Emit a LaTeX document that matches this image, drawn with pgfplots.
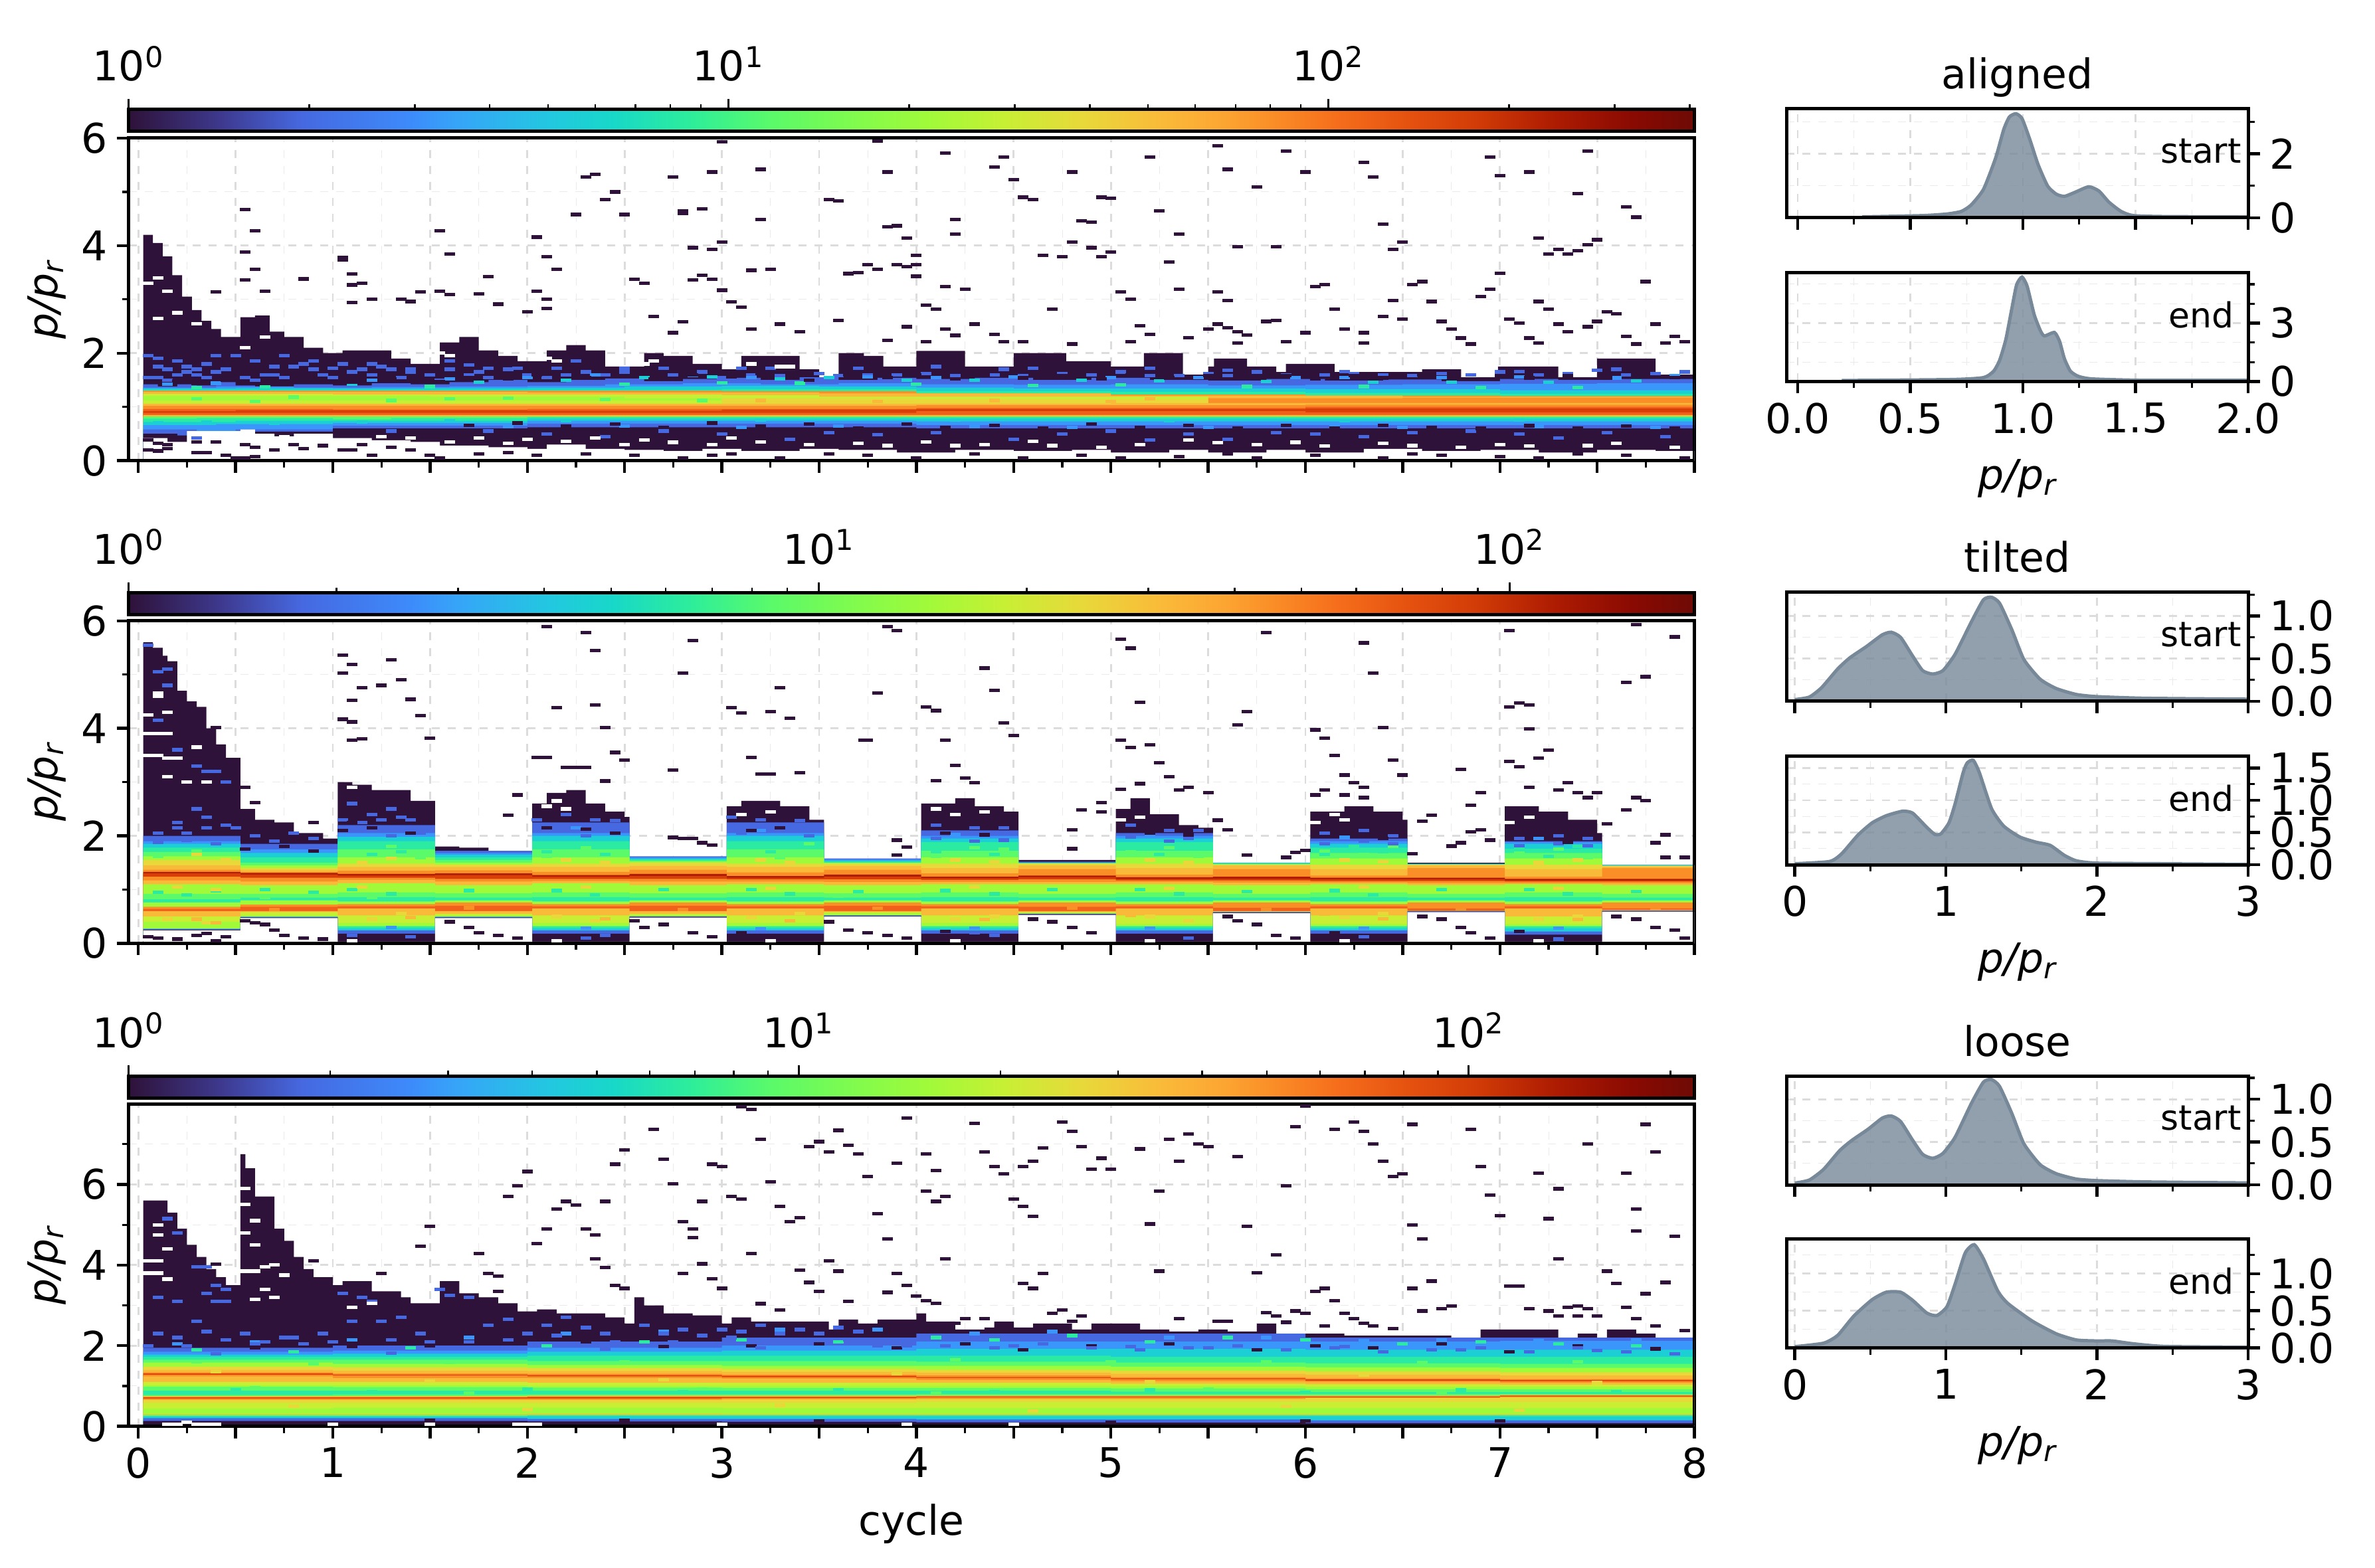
\documentclass[border=0pt]{standalone}
\usepackage{fontspec}
\setmainfont{DejaVu Sans}
\usepackage{pgfplots}
\usepackage{pgfplotstable}
\pgfplotsset{compat=1.18}
\definecolor{cD}{HTML}{2E1239}
\definecolor{cB}{HTML}{4668E0}
\definecolor{cL}{HTML}{3A96FA}
\definecolor{cC}{HTML}{1CCFD5}
\definecolor{cT}{HTML}{2BEBA3}
\definecolor{cG}{HTML}{5AFA6A}
\definecolor{cV}{HTML}{A0FA3A}
\definecolor{cW}{HTML}{C8EF34}
\definecolor{cY}{HTML}{E8D83A}
\definecolor{cA}{HTML}{FABA39}
\definecolor{cO}{HTML}{FA8E27}
\definecolor{cP}{HTML}{F0601A}
\definecolor{cR}{HTML}{D83F08}
\definecolor{cS}{HTML}{AE1C02}
\definecolor{kdeline}{HTML}{778899}
\definecolor{gridc}{HTML}{DCDCDC}
\pgfplotsset{colormap={turbo}{rgb255(0)=(46,18,57); rgb255(6)=(62,58,144); rgb255(11)=(70,104,224);
  rgb255(18)=(61,139,251); rgb255(21)=(54,165,248); rgb255(27)=(34,200,224); rgb255(31)=(24,216,200);
  rgb255(36)=(46,238,154); rgb255(41)=(90,250,106); rgb255(47)=(133,251,74); rgb255(51)=(160,250,58);
  rgb255(56)=(200,239,52); rgb255(61)=(232,216,58); rgb255(66)=(250,186,57); rgb255(70)=(252,165,50);
  rgb255(73)=(250,142,39); rgb255(77)=(246,111,28); rgb255(82)=(228,80,15); rgb255(86)=(210,60,7);
  rgb255(91)=(174,28,2); rgb255(96)=(138,10,2); rgb255(100)=(110,10,5)}}
\pgfdeclareplotmark{cell}{\pgfpathrectangle{\pgfpoint{-2pt}{-.65pt}}{\pgfpoint{4pt}{1.3pt}}\pgfusepathqfill}
\newcommand\band[2]{\addplot[const plot,fill=#1,draw=none,forget plot] coordinates {#2} \closedcycle;}
\newcommand\bandt[3]{\addplot[const plot,fill=#1,draw=none,forget plot] table[x=x,y=#3] {#2} \closedcycle;}
\newcommand\cells[2]{\addplot[only marks,mark=cell,color=#1,forget plot] coordinates {#2};}
\newcommand\kde[1]{\addplot[fill=kdeline,fill opacity=.8,draw=none,smooth,tension=.35,forget plot] table {#1} \closedcycle;
  \addplot[kdeline,line width=1.25pt,smooth,tension=.35,forget plot] table {#1};}
\newcommand\spine{\draw[line width=1.25pt] (rel axis cs:0,0) rectangle (rel axis cs:1,1);}
\newcommand\pr{{\itshape p/p\textsubscript{r}}}
\pgfplotsset{
  base/.style={scale only axis,
    /pgf/number format/assume math mode=true,
    tick label style={font=\fontsize{15.4}{18}\selectfont},
    title style={font=\fontsize{15.4}{18}\selectfont,at={(axis description cs:.5,1)},anchor=base,yshift=1.5pt},
    axis line style={line width=1.25pt},
    tick align=outside,major tick length=4.5pt,minor tick length=2.5pt,
    tick style={black,line width=1.1pt},minor tick style={black,line width=.8pt},
    grid=both,
    major grid style={gridc,dashed,line width=.7pt},
    minor grid style={gridc!60,dashed,line width=.25pt},
    every axis x label/.style={at={(axis description cs:.5,0)},yshift=-36.6pt,anchor=center,font=\fontsize{15.4}{18}\selectfont},
    every axis y label/.style={at={(axis description cs:0,.5)},xshift=-30.75pt,rotate=90,anchor=center,font=\fontsize{15.4}{18}\selectfont},
    xtick pos=bottom,ytick pos=left,
  },
  heat/.style={base,width=589.25pt,height=121.4pt,xmin=-0.05,xmax=8,
    xtick={0,0.5,...,8},minor xtick={0.25,0.75,...,7.75},ylabel={\pr},ymin=0},
  kde/.style={base,width=173.75pt,height=41pt,ytick pos=right,yticklabel pos=right},
  kdeA/.style={kde,xmin=-0.05,xmax=2,xtick={0,0.5,1,1.5,2},minor xtick={0.25,0.75,1.25,1.75}},
  kdeB/.style={kde,xmin=-0.0556,xmax=3,xtick={0,1,2,3},minor xtick={0.5,1.5,2.5}},
  cbar/.style={scale only axis,width=589.25pt,height=8.25pt,xmin=0,ymin=0,ymax=1,
    ytick=\empty,xtick pos=top,xticklabel pos=top,xtick={0,1,2},
    xticklabels={10\textsuperscript{0},10\textsuperscript{1},10\textsuperscript{2}},
    tick label style={font=\fontsize{15.4}{18}\selectfont,yshift=3pt},
    axis line style={line width=1.25pt},
    tick align=outside,major tick length=4pt,minor tick length=2pt,
    tick style={black,line width=.7pt},minor tick style={black,line width=.6pt},
    colormap name=turbo,point meta min=0,point meta max=1},
}
\pgfplotstableread{
t y
0 0
0.06 0
0.11 0
0.18 0
0.21 0
0.27 0
0.31 0
0.36 0
0.41 0
0.47 0
0.51 0
0.56 0
0.61 0
0.66 0
0.7 0
0.73 0
0.77 0
0.82 0
0.86 0
0.91 0
0.96 0
1 0
0 1
0.06 1
0.11 1
0.18 1
0.21 1
0.27 1
0.31 1
0.36 1
0.41 1
0.47 1
0.51 1
0.56 1
0.61 1
0.66 1
0.7 1
0.73 1
0.77 1
0.82 1
0.86 1
0.91 1
0.96 1
1 1
}\cbtab
\pgfplotstableread{
x bB bL bC bT bG bV bY bA bO bR bP bQ bE bF bG2 bT2 bG3 bO3 bR3 bA3 bW bV3 bT3 bC3 bB3 bD3 bH
0.025 2.0 1.9 1.85 1.78 1.7 1.62 1.55 1.45 1.37 1.33 1.3 1.24 1.17 1.1 .92 .82 .76 .68 .64 .6 .5 .4 .27 .27 .27 .25 .24
0.525 1.85 1.75 1.68 1.6 1.5 1.45 1.4 1.37 1.33 1.31 1.28 1.22 1.15 1.08 .92 .85 .8 .72 .68 .6 .58 .52 .49 .49 .49 .48 .47
1.025 2.2 2.05 1.98 1.9 1.75 1.6 1.48 1.42 1.35 1.29 1.26 1.22 1.18 1.12 .95 .86 .78 .73 .69 .65 .52 .38 .32 .28 .24 .18 .03
1.525 1.72 1.68 1.65 1.6 1.55 1.5 1.46 1.42 1.36 1.3 1.27 1.2 1.15 1.08 .93 .85 .8 .76 .7 .6 .55 .52 .49 .49 .49 .48 .47
2.025 2.25 2.05 2.0 1.9 1.75 1.6 1.48 1.42 1.33 1.27 1.24 1.2 1.16 1.12 .95 .86 .78 .73 .69 .65 .52 .38 .32 .28 .24 .18 .03
2.525 1.62 1.6 1.58 1.56 1.54 1.52 1.5 1.44 1.37 1.29 1.25 1.2 1.15 1.08 .93 .85 .8 .76 .7 .6 .55 .52 .5 .5 .5 .49 .48
3.025 2.25 2.05 2.0 1.9 1.75 1.6 1.48 1.42 1.32 1.25 1.22 1.19 1.15 1.1 .95 .86 .78 .73 .69 .65 .52 .38 .32 .28 .24 .18 .03
3.525 1.58 1.56 1.54 1.52 1.5 1.5 1.48 1.44 1.37 1.28 1.24 1.19 1.14 1.08 .93 .85 .8 .76 .7 .6 .58 .56 .52 .52 .52 .51 .5
4.025 2.1 2.0 1.95 1.88 1.72 1.6 1.48 1.4 1.3 1.24 1.21 1.18 1.14 1.1 .95 .86 .78 .73 .69 .65 .52 .38 .32 .28 .24 .18 .03
4.525 1.52 1.5 1.5 1.5 1.49 1.49 1.48 1.45 1.38 1.26 1.23 1.19 1.14 1.1 .92 .85 .8 .76 .68 .6 .58 .56 .55 .55 .55 .54 .53
5.025 2.05 2.0 1.95 1.88 1.72 1.6 1.48 1.4 1.28 1.23 1.2 1.17 1.14 1.1 .95 .86 .78 .73 .69 .65 .52 .36 .32 .28 .24 .18 .03
5.525 1.5 1.5 1.5 1.48 1.48 1.47 1.46 1.45 1.38 1.24 1.2 1.17 1.13 1.08 .92 .85 .8 .76 .66 .6 .58 .58 .58 .58 .58 .57 .56
6.025 1.95 1.9 1.85 1.78 1.68 1.58 1.46 1.38 1.26 1.22 1.19 1.16 1.13 1.1 .95 .86 .78 .73 .69 .65 .52 .36 .32 .28 .24 .18 .03
6.525 1.48 1.48 1.47 1.47 1.47 1.46 1.46 1.45 1.4 1.22 1.19 1.16 1.12 1.08 .92 .85 .8 .76 .65 .6 .6 .6 .6 .6 .6 .59 .58
7.025 1.9 1.88 1.85 1.76 1.68 1.58 1.46 1.38 1.24 1.2 1.17 1.15 1.12 1.1 .95 .86 .78 .73 .69 .65 .5 .36 .32 .28 .22 .16 .03
7.525 1.46 1.46 1.45 1.45 1.45 1.44 1.44 1.43 1.4 1.2 1.17 1.15 1.12 1.08 .92 .85 .8 .76 .65 .62 .61 .61 .61 .61 .61 .6 .59
8 1.46 1.46 1.45 1.45 1.45 1.44 1.44 1.43 1.4 1.2 1.17 1.15 1.12 1.08 .92 .85 .8 .76 .65 .62 .61 .61 .61 .61 .61 .6 .59
}\tTwo
\pgfplotstableread{
x bB bL bC bT bG bV bY bA bO bR bQ bE bW bF bG2 bT2 bG3 bA3 bO3 bR3 bA4 bW2 bV4 bA5 bO5 bT3 bC3 bB3 bD3 bH
0.025 1.95 1.85 1.78 1.72 1.65 1.58 1.48 1.40 1.34 1.31 1.28 1.24 1.10 1.02 .98 .88 .78 .75 .72 .69 .66 .58 .44 .30 .28 .26 .24 .20 .13 .03
1 2.0 1.88 1.80 1.72 1.65 1.55 1.46 1.38 1.31 1.28 1.26 1.2 1.10 1.02 .97 .88 .79 .75 .72 .69 .66 .58 .46 .30 .28 .26 .24 .20 .13 .02
2 2.1 1.95 1.85 1.75 1.62 1.52 1.44 1.37 1.3 1.27 1.24 1.2 1.08 1.0 .96 .88 .79 .76 .73 .69 .66 .58 .46 .31 .28 .27 .25 .18 .12 .02
3 2.2 2.0 1.88 1.75 1.62 1.5 1.42 1.35 1.28 1.25 1.22 1.18 1.08 1.0 .95 .88 .79 .76 .73 .7 .67 .58 .45 .3 .28 .27 .25 .18 .11 .02
4 2.3 2.1 1.92 1.75 1.6 1.5 1.4 1.33 1.26 1.22 1.2 1.15 1.08 1.0 .95 .88 .8 .76 .74 .72 .68 .6 .45 .3 .28 .27 .25 .17 .1 .02
5 2.3 2.1 1.92 1.72 1.58 1.48 1.38 1.3 1.22 1.19 1.17 1.12 1.06 1.0 .94 .86 .8 .76 .74 .72 .68 .6 .45 .3 .28 .27 .25 .17 .09 .02
6 2.2 2.1 1.9 1.72 1.56 1.46 1.36 1.28 1.19 1.16 1.13 1.1 1.04 .98 .92 .85 .8 .76 .74 .72 .7 .6 .45 .3 .28 .27 .25 .15 .08 .02
7 2.2 2.12 1.9 1.72 1.55 1.45 1.34 1.26 1.17 1.15 1.12 1.08 1.03 .98 .92 .85 .8 .78 .76 .74 .72 .6 .45 .3 .28 .27 .24 .15 .08 .02
8 2.2 2.12 1.9 1.72 1.55 1.45 1.34 1.26 1.17 1.15 1.12 1.08 1.03 .98 .92 .85 .8 .78 .76 .74 .72 .6 .45 .3 .28 .27 .24 .15 .08 .02
}\tThree
\pgfplotstableread{
x y
0.286 .03
0.555 .07
0.663 .12
0.726 .2
0.77 .4
0.825 .89
0.879 1.87
0.915 2.76
0.94 3.15
0.969 3.25
0.996 3.1
1.03 2.46
1.067 1.67
1.11 .99
1.148 .74
1.184 .67
1.229 .79
1.292 .97
1.337 .84
1.382 .49
1.436 .2
1.49 .07
1.63 .04
2 .03
}\kAs
\pgfplotstableread{
x y
0.196 .05
0.681 .1
0.825 .2
0.87 .53
0.897 1.1
0.924 2.15
0.951 3.76
0.972 4.97
0.996 5.37
1.019 4.89
1.05 3.44
1.077 2.63
1.095 2.34
1.14 2.52
1.163 2.06
1.184 1.18
1.211 .53
1.247 .26
1.31 .13
1.544 .06
2 .06
}\kAe
\pgfplotstableread{
x y
0 .02
.096 .05
.177 .16
.284 .38
.364 .51
.472 .64
.579 .78
.638 .81
.7 .75
.78 .53
.846 .36
.913 .32
.98 .36
1.06 .55
1.168 .93
1.248 1.19
1.302 1.22
1.355 1.15
1.436 .84
1.516 .49
1.623 .26
1.73 .15
1.864 .08
2 .055
2.32 .036
3 .025
}\kBs
\pgfplotstableread{
x y
0 .015
.23 .05
.31 .17
.418 .46
.512 .65
.605 .76
.713 .83
.78 .8
.873 .58
.927 .47
.967 .48
1.02 .65
1.06 .94
1.114 1.43
1.141 1.58
1.181 1.62
1.221 1.43
1.302 .87
1.382 .6
1.489 .43
1.596 .35
1.69 .3
1.784 .145
1.864 .06
2 .024
2.45 .015
3 .005
}\kBe
\pgfplotstableread{
x y
0 .02
.096 .056
.19 .18
.297 .40
.378 .52
.485 .65
.579 .78
.638 .805
.7 .74
.78 .52
.846 .356
.913 .31
.98 .367
1.06 .554
1.168 .95
1.248 1.2
1.302 1.23
1.355 1.15
1.436 .835
1.516 .48
1.623 .236
1.73 .13
1.864 .067
2 .049
2.32 .034
3 .022
}\kCs
\pgfplotstableread{
x y
0 .017
.19 .064
.284 .17
.391 .43
.512 .65
.605 .75
.7 .75
.78 .64
.873 .47
.94 .436
1.007 .556
1.06 .855
1.128 1.28
1.187 1.39
1.248 1.2
1.342 .77
1.409 .6
1.57 .363
1.73 .19
1.864 .107
2 .094
2.1 .094
2.24 .056
2.45 .02
3 .01
}\kCe
\begin{document}
\begin{tikzpicture}
\path[use as bounding box] (0,0) rectangle (893.75pt,590pt);
% colour bars, x in decades
\begin{axis}[cbar,at={(48.4pt,540.5pt)},anchor=south west,xmax=2.61,minor xtick={.301,.477,.602,.699,.778,.845,.903,.954,1.301,1.477,1.602,1.699,1.778,1.845,1.903,1.954,2.301,2.477,2.602}]
\addplot[surf,shader=interp,mesh/cols=22,point meta=\thisrow{t},forget plot] table[x expr={\thisrow{t}*2.61},y=y] {\cbtab};
\spine
\end{axis}
\begin{axis}[cbar,at={(48.4pt,358.6pt)},anchor=south west,xmax=2.268,minor xtick={.301,.477,.602,.699,.778,.845,.903,.954,1.301,1.477,1.602,1.699,1.778,1.845,1.903,1.954}]
\addplot[surf,shader=interp,mesh/cols=22,point meta=\thisrow{t},forget plot] table[x expr={\thisrow{t}*2.268},y=y] {\cbtab};
\spine
\end{axis}
\begin{axis}[cbar,at={(48.4pt,176.75pt)},anchor=south west,xmax=2.337,minor xtick={.301,.477,.602,.699,.778,.845,.903,.954,1.301,1.477,1.602,1.699,1.778,1.845,1.903,1.954,2.301}]
\addplot[surf,shader=interp,mesh/cols=22,point meta=\thisrow{t},forget plot] table[x expr={\thisrow{t}*2.337},y=y] {\cbtab};
\spine
\end{axis}
% aligned
\begin{axis}[heat,at={(48.4pt,416.6pt)},anchor=south west,ymax=6,ytick={0,2,4,6},yticklabels={0,2,4,6},minor ytick={1,3,5},xticklabels={}]
\band{cD}{(.025,4.2)(.075,4.05)(.125,3.8)(.175,3.45)(.225,3.05)(.275,2.8)(.325,2.6)(.375,2.45)(.425,2.3)(.525,2.67)(.6,2.7)(.675,2.4)(.75,2.3)(.85,2.1)(.95,2.0)(1.05,2.05)(1.2,2.05)(1.3,1.9)(1.4,1.8)(1.55,2.2)(1.65,2.3)(1.75,2.05)(1.85,1.95)(1.95,1.85)(2.1,2.05)(2.2,2.15)(2.3,2.05)(2.4,1.75)(2.6,2.0)(2.7,1.95)(2.85,1.8)(3.0,1.7)(3.1,1.95)(3.3,1.95)(3.4,1.7)(3.5,1.55)(3.6,2.0)(3.73,1.95)(3.83,1.75)(4,2.04)(4.25,1.75)(4.5,2.0)(4.77,1.85)(5,1.75)(5.17,2.0)(5.37,1.6)(5.5,1.75)(5.53,1.9)(5.7,1.75)(5.85,1.65)(5.9,1.8)(6.15,1.65)(6.6,1.7)(6.8,1.55)(6.99,1.75)(7.3,1.55)(7.5,1.9)(7.8,1.6)(8,1.6)}
\band{cB}{(.025,1.42)(.1,1.38)(.2,1.42)(.3,1.4)(.4,1.46)(.5,1.4)(.6,1.38)(.8,1.42)(1,1.4)(1.2,1.44)(1.4,1.42)(1.6,1.46)(1.8,1.5)(2,1.46)(2.2,1.5)(2.4,1.53)(2.6,1.48)(2.8,1.52)(3,1.54)(3.2,1.5)(3.4,1.55)(3.6,1.5)(3.8,1.54)(4,1.52)(4.3,1.54)(4.6,1.5)(4.9,1.54)(5.2,1.5)(5.5,1.49)(5.8,1.52)(6.1,1.49)(6.4,1.51)(6.7,1.48)(7,1.52)(7.3,1.5)(7.6,1.52)(8,1.54)}
\band{cL}{(.025,1.36)(.4,1.38)(.8,1.36)(1.2,1.37)(1.6,1.38)(2,1.39)(2.4,1.42)(2.8,1.44)(3.2,1.42)(3.6,1.44)(4,1.42)(4.5,1.41)(5,1.42)(5.5,1.4)(6,1.41)(6.5,1.42)(7,1.43)(7.5,1.44)(8,1.46)}
\band{cC}{(.025,1.34)(.5,1.35)(1,1.34)(1.5,1.35)(2,1.36)(2.5,1.38)(3,1.39)(3.5,1.38)(4,1.36)(4.5,1.34)(5,1.34)(6,1.33)(7,1.31)(8,1.29)}
\band{cT}{(.025,1.32)(1,1.32)(2,1.32)(3,1.33)(4,1.29)(5,1.28)(6,1.26)(7,1.24)(8,1.23)}
\band{cO}{(.025,1.3)(2,1.3)(3,1.29)(4,1.25)(5,1.23)(6,1.21)(7,1.2)(8,1.2)}
\band{cA}{(.025,1.28)(2,1.27)(3.5,1.25)(5,1.21)(6.5,1.19)(8,1.18)}
\band{cW}{(.025,1.24)(1,1.23)(2,1.23)(3,1.22)(3.5,1.19)(5.5,1.19)}
\band{cO}{(5.5,1.16)(6.5,1.17)(8,1.16)}
\band{cV}{(.025,1.2)(1.5,1.19)(2.5,1.16)(3,1.12)}
\band{cY}{(3,1.16)(4,1.15)(5.5,1.13)}
\band{cW}{(.025,1.12)(1.5,1.12)(3,1.1)}
\band{cA}{(.025,1.06)(2,1.06)(3.5,1.06)(5,1.07)(8,1.08)}
\band{cO}{(.025,1.02)(2,1.02)(4,1.03)(6,1.04)(8,1.06)}
\band{cP}{(.025,.96)(1,.95)(2,.96)(4,.98)(6,1.0)(8,1.02)}
\band{cR}{(.025,.92)(.5,.94)(1,.94)(2,.93)(3,.95)(4,.96)(6,.97)(8,.96)}
\band{cP}{(.025,.89)(2,.89)(4,.92)(6,.9)(8,.9)}
\band{cA}{(.025,.85)(8,.86)}
\band{cG}{(.025,.82)(8,.83)}
\band{cT}{(.025,.78)(.3,.79)(1,.77)(1.3,.79)(2,.81)(8,.81)}
\band{cC}{(.025,.72)(.5,.74)(1,.74)(2,.78)(4,.78)(8,.77)}
\band{cL}{(.025,.66)(.4,.68)(1,.7)(2,.74)(4,.73)(8,.73)}
\band{cB}{(.025,.58)(.3,.54)(.5,.58)(1,.65)(2,.69)(4,.66)(8,.66)}
\band{cD}{(.025,.5)(.2,.47)(.3,.53)(.6,.54)(1,.6)(2,.62)(4,.6)(8,.56)}
\band{white}{(.025,.42)(.15,.35)(.25,.55)(.525,.58)(.6,.5)(.7,.45)(.8,.5)(1,.42)(1.2,.38)(1.4,.35)(1.55,.28)(1.8,.25)(2,.22)(2.1,.3)(2.3,.22)(2.5,.2)(2.7,.18)(2.9,.22)(3.1,.18)(3.4,.22)(3.6,.2)(3.9,.15)(4.2,.2)(4.5,.18)(4.8,.2)(5,.15)(5.3,.2)(5.5,.15)(5.8,.2)(6,.15)(6.3,.22)(6.6,.18)(6.9,.2)(7.2,.15)(7.5,.2)(7.8,.18)(8,.18)}
\cells{cB}{(.05,1.95)(.1,1.75)(.15,1.7)(.1,1.55)(.15,1.5)(.05,1.55)(.2,1.6)(.25,1.65)(.3,1.7)(.3,1.6)(.35,1.55)(.4,1.65)(.45,1.7)(.5,1.95)(.55,1.55)(.6,1.5)(.65,1.6)(.7,1.6)(.75,1.55)(.8,1.75)(.85,1.8)(.9,1.7)(.95,1.6)(1.0,1.55)(1.05,1.8)(1.1,1.65)(1.15,1.7)(1.2,1.6)(1.25,1.75)(1.3,1.7)(1.35,1.55)(1.4,1.65)(1.5,1.6)(1.55,1.5)(1.6,1.7)(1.7,1.6)(1.75,1.65)(1.8,1.55)(1.9,1.7)(2.0,1.6)(2.1,1.55)(2.2,1.6)(2.3,1.65)(2.4,1.6)(2.5,1.65)(2.6,1.55)(2.75,1.6)(2.9,1.65)(3,1.55)(3.15,1.6)(3.3,1.58)(3.5,1.62)(3.6,1.58)(3.75,1.6)(3.9,1.6)(4.05,1.62)(4.2,1.58)(4.4,1.6)(4.55,1.58)(4.75,1.62)(4.9,1.6)(5.05,1.65)(5.2,1.58)(5.35,1.58)(5.5,1.62)(5.6,1.58)(5.75,1.65)(5.9,1.6)(6.1,1.6)(6.25,1.62)(6.4,1.6)(6.55,1.58)(6.7,1.62)(6.85,1.6)(7,1.65)(7.2,1.6)(7.35,1.62)(7.5,1.68)(7.65,1.6)(7.8,1.62)(7.95,1.65)(.3,.42)(1.3,.55)(2.4,.45)(3.35,.4)(4.5,.4)(5.2,.38)(5.6,.4)(6.3,.45)(7.3,.42)(7.85,.45)(1.8,.55)(2.1,.5)(2.7,.55)(3,.5)(3.55,.52)(3.8,.48)(4.1,.52)(4.75,.5)(5,.55)(5.4,.5)(5.85,.52)(6.05,.5)(6.55,.52)(6.85,.55)(7.1,.5)(7.55,.52)
(.1,1.9)(.2,1.85)(.25,1.75)(.35,1.8)(.4,1.95)(.6,1.85)(.7,1.75)(.75,1.95)(.9,1.85)(1.0,1.72)(1.2,1.8)(1.4,1.7)(1.6,1.85)(1.7,1.78)(1.8,1.72)(1.95,1.72)(2.15,1.72)(2.25,1.85)(2.5,1.72)(2.7,1.72)(3.1,1.72)(3.25,1.72)(3.7,1.72)(4.1,1.75)(4.45,1.7)(4.6,1.72)(5.2,1.72)(5.6,1.68)(6.2,1.66)(7.1,1.66)(7.6,1.7)}
\cells{cL}{(.15,1.42)(.4,1.44)(1.2,1.5)(1.6,1.52)(2,1.55)(2.35,1.6)(2.85,1.58)(3.15,1.55)(3.75,1.56)(4.1,1.55)(4.5,1.56)(5,1.55)(5.45,1.55)(5.95,1.55)(6.2,1.55)(6.7,1.55)(7.1,1.56)(7.6,1.54)(7.9,1.58)(1.9,.63)(2.5,.64)(3.1,.62)(3.6,.64)(4.3,.63)(4.8,.62)(5.5,.62)(6.15,.63)(6.5,.62)(7.2,.63)(7.8,.62)}
\cells{cC}{(1.1,1.42)(1.75,1.46)(2.2,1.5)(2.6,1.55)(2.95,1.56)(3.3,1.52)(3.55,1.55)(3.95,1.5)(4.3,1.5)(4.85,1.5)(5.25,1.48)(5.8,1.47)(6.35,1.46)(6.75,1.46)(7.25,1.46)(7.7,1.48)(.1,.7)(.35,.72)(.7,.7)(1.15,.72)(1.6,.74)(2.2,.74)(3.2,.75)(4.2,.75)(5.3,.74)(6.2,.74)(7.1,.75)}
\cells{cT}{(.3,1.36)(.65,1.37)(1.5,1.38)(2.5,1.42)(3,1.45)(3.4,1.44)(4,1.42)(4.6,1.4)(5.05,1.41)(5.7,1.38)(6.3,1.38)(6.9,1.36)(7.4,1.36)}
\cells{cG}{(.3,1.15)(.8,1.18)(1.3,1.12)(1.9,1.16)(2.4,1.14)(2.9,1.12)(.6,1.1)(1.6,1.15)}
\cells{cA}{(3.2,1.12)(3.8,1.1)(4.4,1.12)(5,1.1)(5.2,1.15)}
\cells{white}{(.1,3.4)(.15,3.15)(.05,3.3)(.1,2.65)(.2,2.75)(.3,2.55)(.65,2.3)(.55,2.1)(1.55,2.0)(1.6,1.95)(2.1,1.9)(2.15,1.85)(2.6,1.8)(2.65,1.85)(3.15,1.8)(3.3,1.75)(3.35,1.75)(.75,.45)(.85,.4)(1.15,.35)(1.25,.45)(1.4,.42)(1.6,.35)(1.75,.42)(1.9,.32)(2,.4)(2.2,.36)(2.35,.42)(2.5,.3)(2.6,.38)(2.75,.34)(2.95,.3)(3.05,.42)(3.2,.35)(3.45,.3)(3.7,.32)(3.85,.28)(4.05,.35)(4.2,.28)(4.35,.3)(4.6,.36)(4.7,.28)(4.95,.25)(5.15,.3)(5.4,.38)(5.55,.33)(5.75,.3)(5.95,.34)(6.1,.27)(6.4,.32)(6.55,.28)(6.8,.25)(7,.3)(7.15,.27)(7.45,.28)(7.6,.32)(7.9,.25)}
\cells{cD}{(.2,1.48)(.3,1.43)(.45,1.5)(.7,1.44)(.85,1.52)(1.1,1.46)(1.3,1.52)(1.55,1.47)(1.7,1.55)(1.9,1.52)(2.05,1.6)(2.3,1.54)(2.5,1.58)(2.65,1.52)(2.85,1.6)(3.05,1.56)(3.2,1.62)(3.45,1.5)(3.65,1.6)(3.85,1.55)(4,1.6)(4.2,1.52)(4.35,1.6)(4.55,1.54)(4.75,1.58)(4.95,1.52)(5.1,1.6)(5.3,1.54)(5.5,1.58)(5.7,1.52)(5.9,1.58)(6.05,1.52)(6.25,1.58)(6.4,1.54)(6.6,1.6)(6.8,1.52)(7,1.58)(7.15,1.54)(7.35,1.58)(7.55,1.54)(7.7,1.6)(7.9,1.55)
(1.7,.66)(1.95,.7)(2.2,.64)(2.45,.68)(2.7,.62)(2.95,.7)(3.2,.64)(3.45,.68)(3.7,.6)(3.95,.68)(4.15,.62)(4.4,.66)(4.65,.6)(4.9,.68)(5.15,.62)(5.4,.66)(5.65,.6)(5.9,.66)(6.15,.6)(6.4,.66)(6.65,.62)(6.9,.6)(7.15,.65)(7.4,.6)(7.65,.64)(7.9,.6)
(.55,4.675)(.6,4.28)(.55,3.88)(1.05,3.78)(1.05,3.73)(.6,3.56)(.55,3.36)(.85,3.38)(1.1,3.47)(1.15,3.3)(1.1,3.27)(.4,3.14)(.65,3.15)(1.1,2.94)(1.2,3.0)(1.35,3.0)(1.4,2.96)(1.45,3.14)(1.55,4.28)(1.55,3.15)(1.6,3.84)(1.6,3.09)(1.75,3.1)(1.8,3.42)(1.85,2.91)(2.05,4.16)(2.1,3.79)(2.15,3.56)(2.05,3.15)(2.1,3.0)(2.0,2.77)(2.1,2.83)(2.3,5.28)(2.35,5.33)(2.45,5.0)(2.4,4.86)(2.25,4.58)(2.5,4.58)(2.75,5.28)(2.8,4.65)(2.8,4.6)(2.9,4.68)(2.95,5.37)(3.2,5.42)(3.2,4.49)(3.0,5.93)(3.0,4.07)(2.85,3.96)(2.95,3.93)(3.15,3.54)(3.25,3.56)(2.9,3.45)(2.85,3.36)(2.95,3.37)(2.55,3.37)(2.6,3.3)(3.0,3.17)(3.05,2.95)(3.1,2.86)(2.65,2.68)(2.8,2.58)(3.6,2.61)(3.3,2.54)(3.4,2.4)(3.15,2.45)(2.75,2.38)(3.55,4.86)(3.6,4.83)(3.65,3.48)(3.7,3.5)
(3.8,5.94)(5.55,5.86)(5.9,5.76)(4.15,5.72)(4.45,5.65)(5.2,5.65)(6.3,5.55)(6.95,5.65)(7.45,5.76)(4.4,5.46)(3.85,5.37)(4.8,5.37)(5.6,5.42)(6.0,5.37)(7.15,5.37)(7.0,5.3)(6.35,5.28)(4.5,5.23)(5.75,5.09)(4.55,4.9)(4.6,4.86)(4.95,4.9)(5.0,4.88)(7.4,4.97)(5.25,4.65)(4.85,4.46)(4.9,4.44)(4.2,4.49)(7.65,4.72)(7.7,4.53)(6.4,4.4)(3.85,4.35)(3.9,4.37)(4.2,4.21)(3.95,4.14)(5.35,4.21)(7.2,4.14)(4.8,4.07)(4.9,3.96)(5.0,3.88)(5.65,3.98)(5.85,3.98)(6.5,4.07)(6.45,3.93)(7.5,4.11)(7.45,4.02)(7.4,3.91)(7.3,3.93)(7.25,3.84)(7.35,3.84)(4.0,3.82)(4.65,3.82)(4.75,3.79)(4.95,3.79)(5.3,3.7)(3.75,3.65)(3.8,3.56)(3.9,3.65)(3.95,3.61)(4.0,3.65)(4.0,3.43)(7.0,3.49)(4.15,3.24)(4.25,3.19)(5.05,3.14)(5.1,3.0)(5.35,3.19)(5.55,3.14)(5.6,2.98)(6.05,3.24)(6.1,3.28)(6.55,3.28)(6.6,3.33)(6.45,2.98)(6.65,2.96)(6.9,3.05)(6.95,3.19)(7.2,2.96)(7.75,3.33)(7.25,2.82)(6.15,2.82)(4.05,2.89)(4.1,2.82)(4.7,2.82)(7.55,2.77)(7.6,2.73)(6.4,2.68)(6.5,2.63)(7.05,2.63)(7.1,2.56)(5.85,2.61)(5.8,2.59)(5.55,2.54)(5.6,2.47)(6.7,2.59)(7.3,2.54)(7.5,2.59)(7.8,2.54)(7.45,2.49)(4.3,2.54)(5.15,2.51)(5.5,2.45)(6.2,2.45)(6.75,2.45)(6.3,2.38)(6.0,2.38)(5.65,2.4)(5.7,2.34)(7.35,2.4)(4.4,2.35)(4.2,2.33)(3.95,2.49)(4.15,2.45)(5.2,2.35)(6.8,2.28)(7.15,2.28)(7.65,2.31)(7.9,2.31)(7.95,2.21)(7.7,2.17)(7.85,2.19)(6.3,2.19)(5.9,2.21)(5.4,2.29)(5.65,2.19)(5.1,2.21)(4.8,2.17)(4.45,2.21)(4.55,2.21)(4.05,2.21)(3.85,2.24)(7.2,2.19)(6.85,2.17)
(.05,.38)(.1,.32)(.15,.3)(.05,.2)(.1,.18)(.15,.22)(.3,.35)(.4,.35)(.3,.15)(.35,.15)(.45,.1)(.5,.05)(.55,.05)(.6,.08)(.55,.3)(.6,.25)(.7,.2)(.85,.22)(.8,.3)(.95,.28)(1.05,.2)(1.1,.2)(1.15,.3)(1.2,.1)(1.3,.25)(1.4,.2)(1.5,.1)(1.55,.05)(1.75,.12)(1.9,.15)(2.05,.1)(2.3,.12)(2.55,.1)(2.8,.05)(2.95,.1)(3.05,.12)(3.3,.05)(3.55,.12)(3.75,.1)(4.0,.05)(4.3,.12)(4.55,.05)(4.85,.1)(5.05,.05)(5.35,.08)(5.6,.12)(5.75,.05)(6.05,.1)(6.4,.05)(6.55,.12)(6.7,.1)(7,.08)(7.2,.05)(7.4,.12)(7.65,.1)(7.95,.05)}
\spine
\end{axis}
% tilted
\begin{axis}[heat,at={(48.4pt,234.9pt)},anchor=south west,ymax=6,ytick={0,2,4,6},yticklabels={0,2,4,6},minor ytick={1,3,5},xticklabels={}]
\band{cD}{(.025,5.6)(.075,5.5)(.125,5.35)(.15,5.25)(.2,4.7)(.25,4.5)(.3,4.4)(.35,4.0)(.4,3.7)(.45,3.45)(.525,2.5)(.6,2.3)(.7,2.25)(.8,2.05)(.95,1.95)(1.025,3.0)(1.1,2.95)(1.2,2.85)(1.4,2.65)(1.525,1.8)(1.65,1.78)(1.8,1.72)(2.025,2.6)(2.1,2.8)(2.2,2.85)(2.3,2.6)(2.4,2.45)(2.5,2.35)(2.525,1.6)(3.025,2.55)(3.1,2.65)(3.3,2.55)(3.45,2.3)(3.525,1.55)(3.7,1.5)(4.025,2.6)(4.2,2.7)(4.3,2.55)(4.45,2.45)(4.525,1.55)(5.025,2.5)(5.1,2.7)(5.2,2.4)(5.35,2.2)(5.45,2.15)(5.525,1.5)(6.025,2.45)(6.2,2.55)(6.35,2.45)(6.5,2.3)(6.525,1.5)(7.025,2.55)(7.2,2.45)(7.35,2.3)(7.5,2.05)(7.525,1.46)(8,1.46)}
\bandt{cB}{\tTwo}{bB}
\bandt{cL}{\tTwo}{bL}
\bandt{cC}{\tTwo}{bC}
\bandt{cT}{\tTwo}{bT}
\bandt{cG}{\tTwo}{bG}
\bandt{cV}{\tTwo}{bV}
\bandt{cY}{\tTwo}{bY}
\bandt{cA}{\tTwo}{bA}
\bandt{cO}{\tTwo}{bO}
\bandt{cS}{\tTwo}{bR}
\bandt{cR}{\tTwo}{bP}
\bandt{cO}{\tTwo}{bQ}
\bandt{cA}{\tTwo}{bE}
\bandt{cV}{\tTwo}{bF}
\bandt{cG}{\tTwo}{bG2}
\bandt{cT}{\tTwo}{bT2}
\bandt{cV}{\tTwo}{bG3}
\bandt{cO}{\tTwo}{bO3}
\bandt{cP}{\tTwo}{bR3}
\bandt{cA}{\tTwo}{bA3}
\bandt{cW}{\tTwo}{bW}
\bandt{cV}{\tTwo}{bV3}
\bandt{cT}{\tTwo}{bT3}
\bandt{cC}{\tTwo}{bC3}
\bandt{cB}{\tTwo}{bB3}
\bandt{cD}{\tTwo}{bD3}
\bandt{white}{\tTwo}{bH}
\cells{cT}{(1.1,1.8)(1.2,1.65)(1.35,1.7)(1.45,1.85)(2.1,1.7)(2.25,1.85)(2.4,1.65)(3.1,1.85)(3.25,1.7)(3.4,1.8)(4.1,1.7)(4.25,1.85)(4.4,1.65)(5.1,1.8)(5.25,1.65)(5.4,1.85)(6.1,1.65)(6.25,1.8)(6.4,1.7)(7.1,1.75)(7.25,1.62)(7.4,1.8)(.1,.95)(.25,.9)(.4,.98)(1.1,1.0)(1.3,.92)(2.15,.98)(2.35,.9)(3.15,1.0)(3.35,.92)(4.15,.98)(4.4,.92)(5.15,1.0)(5.35,.92)(6.15,.98)(6.35,.9)(7.15,1.0)(7.35,.92)(.65,1.0)(.9,.95)(1.7,.98)(2.7,1.0)(3.7,.96)(4.7,1.0)(5.7,.96)(6.7,1.0)(7.7,.96)}
\cells{cG}{(.1,1.62)(.3,1.72)(1.1,1.68)(1.3,1.8)(1.45,1.6)(2.1,1.62)(2.3,1.78)(2.4,1.72)(3.1,1.7)(3.3,1.6)(3.45,1.85)(4.1,1.62)(4.3,1.78)(4.45,1.75)(5.1,1.7)(5.3,1.78)(5.45,1.62)(6.1,1.72)(6.3,1.65)(6.45,1.8)(7.1,1.68)(7.3,1.75)(7.45,1.6)(.65,.85)(1.2,.85)(2.4,.9)(3.6,.88)}
\cells{cY}{(.1,1.5)(.3,1.65)(.45,1.55)(1.15,1.5)(1.3,1.58)(2.2,1.55)(2.4,1.5)(3.2,1.55)(3.35,1.5)(4.2,1.55)(4.4,1.52)(5.2,1.55)(5.4,1.5)(6.2,1.55)(6.4,1.52)(7.2,1.5)(7.4,1.55)(.15,.45)(.35,.38)(1.2,.45)(1.35,.55)(2.15,.5)(2.35,.42)(3.15,.48)(3.4,.55)(4.2,.45)(4.4,.5)(5.2,.5)(5.4,.42)(6.2,.48)(6.4,.55)(7.2,.45)(7.4,.5)(.2,1.05)(.4,1.0)(1.15,1.05)(2.3,1.05)(3.25,1.02)(4.3,1.05)(5.3,1.02)(6.3,1.05)(7.3,1.02)}
\cells{cA}{(1.2,.58)(1.4,.48)(2.1,.55)(2.4,.46)(3.2,.6)(3.35,.42)(4.1,.56)(4.35,.44)(5.1,.52)(5.35,.58)(6.1,.54)(6.4,.46)(7.15,.58)(7.4,.44)(.1,.55)(.3,.45)(.4,.38)}
\cells{cO}{(.7,.63)(1.7,.66)(2.8,.63)(3.8,.65)(4.8,.66)(5.8,.63)(6.8,.64)(7.8,.66)}
\cells{cL}{(1.2,2.15)(2.25,2.15)(3.2,2.1)(4.2,2.02)(5.2,2.02)(6.2,1.97)(7.2,1.95)(1.3,.3)(2.3,.28)(3.2,.27)(4.3,.28)(5.2,.28)(6.3,.28)(7.3,.28)}
\cells{cB}{(.05,5.55)(.1,5.05)(.15,5.1)(.15,4.8)(.1,4.15)(.2,3.6)(.3,3.3)(.35,3.2)(.4,3.2)(.45,3.0)(.3,2.5)(.35,2.35)(.2,2.15)(.25,2.05)(.35,2.15)(.1,2.05)(.2,2.25)(.45,2.2)(.5,2.15)(.6,2.0)(.7,1.9)(.8,2.05)(.9,1.95)(1.1,2.6)(1.2,2.4)(1.3,2.5)(1.4,2.3)(1.05,2.3)(1.15,2.25)(1.25,2.3)(1.35,2.35)(2.05,2.3)(2.2,2.4)(2.35,2.3)(2.45,2.28)(3.05,2.35)(3.2,2.3)(3.4,2.28)(4.1,2.2)(4.3,2.15)(4.45,2.15)(5.1,2.2)(5.3,2.1)(5.45,2.1)(6.1,2.05)(6.3,2.1)(6.45,2.0)(7.1,1.95)(7.3,2.0)(7.45,1.95)(1.1,.15)(1.4,.12)(2.3,.1)(2.4,.15)(4.3,.2)(4.4,.15)(5.4,.1)(6.3,.12)(7.3,.08)
(.1,1.88)(.25,1.92)(.4,1.85)(1.1,2.1)(1.3,2.0)(1.45,2.05)(2.1,2.1)(2.3,2.0)(2.45,2.05)(3.1,2.05)(3.3,2.1)(3.45,2.0)(4.1,1.95)(4.3,1.9)(4.45,1.92)(5.1,1.98)(5.3,1.9)(5.4,1.95)(6.1,1.85)(6.3,1.9)(6.45,1.85)(7.1,1.82)(7.3,1.85)(7.45,1.82)}
\cells{white}{(.1,4.6)(.1,4.65)(.05,3.9)(.1,3.9)(.15,3.9)(.1,3.5)(.05,3.5)(.15,3.45)(.2,3.45)(.3,3.65)(.35,3.0)(.25,3.0)(.15,3.1)(.05,4.25)(.15,4.3)(1.1,2.9)(1.05,3.25)(1.15,3.2)(2.1,2.55)(2.2,2.5)(2.15,2.65)(3.1,2.4)(3.25,2.45)(4.1,2.5)(4.2,2.4)(4.35,2.45)(5.15,2.35)(5.05,2.3)(6.05,2.25)(6.15,2.4)(6.2,2.3)(7.15,2.35)(7.05,2.25)(.05,.08)(.15,.12)(1.1,.05)(2.15,.05)(3.25,.05)(4.2,.05)(5.2,.05)(6.2,.05)(7.2,.05)}
\cells{cD}{(1.05,2.1)(1.2,2.15)(1.4,2.05)(2.1,2.15)(2.3,2.12)(2.45,2.05)(3.15,2.1)(3.3,2.15)(4.15,2.05)(4.35,2.02)(5.2,2.05)(5.4,2.02)(.55,1.75)(.75,1.8)(.9,1.72)(6.4,1.95)(7.35,1.88)(1.1,2.25)(3.1,.2)(4.15,.22)(6.15,.2)(7.1,.22)
(1.05,5.36)(1.1,5.19)(1.05,5.03)(1.3,5.27)(1.35,4.9)(1.15,4.76)(1.25,4.8)(1.1,4.52)(1.4,4.54)(1.45,4.24)(1.05,4.17)(1.1,4.12)(1.5,3.82)(1.15,3.8)(1.1,3.78)(.4,4.01)(2.1,5.89)(2.3,5.78)(2.35,5.45)(2.85,5.63)(2.8,5.03)(2.15,4.39)(2.35,4.43)(2.4,4.01)(2.45,3.55)(2.5,3.41)(2.05,3.46)(2.1,3.46)(2.2,3.27)(2.25,3.27)(2.3,3.27)(2.75,3.22)(3.15,3.46)(3.3,4.76)(3.05,4.39)(3.1,4.29)(3.25,4.31)(3.35,4.19)(3.2,3.15)(3.25,3.15)(3.4,3.17)(2.4,3.02)(1.95,2.76)(1.9,2.38)(.9,2.25)(.6,2.62)(.55,2.9)(2.75,1.97)(2.8,1.95)(2.85,1.95)(2.9,1.87)(2.95,1.83)(3.73,3.78)
(3.85,5.89)(3.9,5.82)(5.05,5.66)(5.1,5.49)(5.8,5.78)(6.3,5.59)(7.05,5.82)(7.7,5.93)(7.9,5.7)(4.35,5.12)(6.35,5.03)(7.75,4.96)(7.65,4.85)(3.8,4.66)(4.4,4.71)(5.15,4.48)(4.05,4.4)(4.1,4.33)(7.05,4.4)(7.1,4.47)(7.15,4.43)(5.7,4.31)(5.65,4.06)(4.45,4.1)(4.5,3.87)(6.05,3.97)(6.1,3.82)(6.4,4.01)(7.15,3.99)(5.05,3.78)(3.75,3.78)(4.15,3.78)(5.1,3.64)(5.2,3.69)(7.25,3.59)(7.2,3.45)(6.15,3.5)(6.45,3.41)(7.05,3.38)(7.1,3.29)(6.8,3.24)(5.25,3.36)(4.2,3.31)(5.3,3.1)(6.2,3.13)(6.5,3.13)(4.1,3.03)(4.25,3.08)(4.3,2.99)(5.15,2.97)(6.25,2.99)(7.35,2.99)(5.05,2.87)(5.4,2.9)(5.35,2.85)(5.5,2.8)(6.1,2.85)(6.3,2.9)(6.05,2.76)(6.2,2.76)(7.15,2.9)(7.3,2.85)(6.9,2.8)(7.4,2.8)(7.5,2.8)(7.45,2.71)(7.7,2.71)(7.75,2.66)(6.3,2.71)(6.85,2.57)(4.95,2.62)(7.65,2.48)(4.85,2.48)(4.95,2.45)(6.65,2.38)(5.55,2.29)(6.6,2.27)(7.55,2.22)(5.6,2.11)(4.8,2.11)(6.9,2.11)(6.85,2.07)(7.85,2.02)(3.9,1.92)(6.8,1.87)(6.75,1.81)(7.8,1.87)(3.95,1.79)(4.8,1.76)(6.95,1.92)(6.55,1.67)(6.0,1.73)(5.95,1.69)(5.9,1.6)(5.7,1.64)(3.9,1.64)(7.85,1.6)(7.95,1.6)
(.05,.12)(.1,.1)(.2,.08)(.3,.15)(.35,.18)(.4,.05)(.45,.12)(.55,.42)(.6,.38)(.65,.35)(.7,.25)(.75,.15)(.85,.1)(.95,.08)(1.6,.4)(1.7,.3)(1.75,.2)(1.85,.15)(1.95,.1)(2.55,.42)(2.6,.3)(2.7,.35)(2.85,.2)(2.95,.12)(3.55,.4)(3.65,.25)(3.75,.2)(3.85,.15)(3.95,.1)(4.6,.45)(4.7,.4)(4.8,.3)(4.9,.2)(5.6,.5)(5.65,.42)(5.75,.35)(5.85,.15)(5.95,.1)(6.6,.5)(6.7,.45)(6.8,.3)(6.85,.2)(6.95,.1)(7.6,.5)(7.7,.45)(7.8,.3)(7.9,.25)(7.95,.1)}
\spine
\end{axis}
% loose
\begin{axis}[heat,at={(48.4pt,53.1pt)},anchor=south west,ymax=8,ytick={0,2,4,6},yticklabels={0,2,4,6},minor ytick={1,3,5,7},xlabel={cycle},xticklabels={0,,1,,2,,3,,4,,5,,6,,7,,8}]
\band{cD}{(.025,5.6)(.1,5.6)(.15,5.3)(.2,4.9)(.25,4.5)(.3,4.2)(.35,3.9)(.4,3.7)(.45,3.5)(.525,6.75)(.55,6.4)(.6,5.7)(.7,4.9)(.75,4.6)(.8,4.2)(.85,3.9)(.9,3.7)(1.0,3.5)(1.05,3.6)(1.2,3.35)(1.35,3.2)(1.4,3.05)(1.55,3.6)(1.65,3.3)(1.75,3.2)(1.85,3.05)(1.95,2.85)(2.05,2.9)(2.15,2.8)(2.4,2.7)(2.5,2.55)(2.55,3.2)(2.6,3.0)(2.7,2.8)(2.85,2.75)(3.0,2.55)(3.05,2.7)(3.15,2.6)(3.45,2.6)(3.55,2.4)(3.6,2.65)(3.7,2.55)(3.8,2.65)(4.0,2.8)(4.05,2.6)(4.2,2.4)(4.35,2.45)(4.4,2.6)(4.5,2.45)(4.6,2.55)(4.8,2.4)(4.9,2.55)(5.15,2.4)(5.3,2.35)(5.45,2.4)(5.6,2.35)(5.75,2.55)(5.85,2.3)(6.2,2.25)(6.75,2.2)(6.9,2.4)(7.3,2.2)(7.4,2.3)(7.5,2.1)(7.55,2.4)(7.7,2.3)(7.8,2.15)(8,2.15)}
\bandt{cB}{\tThree}{bB}
\bandt{cL}{\tThree}{bL}
\bandt{cC}{\tThree}{bC}
\bandt{cT}{\tThree}{bT}
\bandt{cG}{\tThree}{bG}
\bandt{cV}{\tThree}{bV}
\bandt{cY}{\tThree}{bY}
\bandt{cA}{\tThree}{bA}
\bandt{cO}{\tThree}{bO}
\bandt{cR}{\tThree}{bR}
\bandt{cO}{\tThree}{bQ}
\bandt{cA}{\tThree}{bE}
\bandt{cW}{\tThree}{bW}
\bandt{cV}{\tThree}{bF}
\bandt{cG}{\tThree}{bG2}
\bandt{cT}{\tThree}{bT2}
\bandt{cG}{\tThree}{bG3}
\bandt{cA}{\tThree}{bA3}
\bandt{cR}{\tThree}{bO3}
\bandt{cO}{\tThree}{bR3}
\bandt{cY}{\tThree}{bA4}
\bandt{cW}{\tThree}{bW2}
\bandt{cV}{\tThree}{bV4}
\bandt{cA}{\tThree}{bA5}
\bandt{cG}{\tThree}{bO5}
\bandt{cT}{\tThree}{bT3}
\bandt{cC}{\tThree}{bC3}
\bandt{cB}{\tThree}{bB3}
\bandt{cD}{\tThree}{bD3}
\bandt{white}{\tThree}{bH}
\cells{cT}{(.3,1.9)(.8,1.85)(1.4,1.95)(2.1,2.0)(2.6,2.1)(3.1,2.15)(3.6,2.1)(4.1,2.2)(4.4,2.15)(4.8,2.25)(5.2,2.1)(5.6,2.2)(6,2.15)(6.5,2.05)(6.9,2.1)(7.3,2.05)(7.7,2.0)(.5,.9)(1.2,.85)(2,.92)(2.8,.86)(3.6,.9)(4.4,.85)(5.2,.9)(6,.84)(6.8,.9)(7.6,.85)}
\cells{cL}{(.2,2.05)(.6,2.1)(1.1,2.15)(1.7,2.2)(2.2,2.3)(2.7,2.35)(3.3,2.4)(3.8,2.4)(4.3,2.3)(4.7,2.35)(5.3,2.2)(5.8,2.2)(6.3,2.12)(6.7,2.15)(7.2,2.12)(7.7,2.15)}
\cells{cG}{(.3,1.6)(.9,1.55)(1.6,1.58)(2.5,1.6)(3.4,1.55)(4.2,1.65)(5,1.6)(5.8,1.6)(6.6,1.58)(7.4,1.6)(.6,.95)(1.7,.82)(2.9,.93)(4.1,.82)(5.5,.92)(6.7,.82)}
\cells{cY}{(.4,1.35)(1.5,1.12)(2.7,1.15)(3.9,1.3)(5.2,1.1)(6.3,1.28)(7.5,1.08)(.8,.5)(2,.42)(3.3,.52)(4.6,.38)(5.9,.5)(7.1,.4)}
\cells{cD}{(.6,1.95)(1.1,1.98)(1.5,2.0)(1.95,2.05)(2.3,2.1)(2.7,1.98)(3.15,2.0)(3.5,2.05)(3.9,1.95)(4.25,2.05)(4.55,1.9)(4.9,2.0)(5.3,2.05)(5.75,1.9)(6.05,2.0)(6.35,1.95)(6.7,2.05)(7.05,1.85)(7.4,2.0)(7.8,1.92)(5,.1)(1.5,.15)(2.5,.15)(3.5,.13)(6,.13)(7,.13)}
\cells{cB}{(.15,5.15)(.2,4.8)(.3,3.95)(.35,3.95)(.4,3.5)(.45,3.4)(.35,3.3)(.1,3.2)(.2,3.1)(.45,3.1)(.4,3.1)(.1,2.3)(.2,2.2)(.35,2.35)(.45,2.15)(.55,2.3)(.65,2.1)(.75,2.2)(.85,2.05)(.95,2.3)(1.05,3.3)(1.15,3.2)(1.2,3.1)(1.1,2.6)(1.25,2.6)(1.35,2.7)(1.45,2.3)(1.55,3.4)(1.6,3.25)(1.7,3.2)(1.8,2.5)(1.9,2.65)(2.0,2.3)(2.1,2.5)(2.2,2.7)(2.3,2.45)(2.4,2.3)(2.6,2.5)(2.7,2.3)(2.8,2.4)(2.9,2.25)(3.0,2.4)(3.1,2.35)(3.2,2.5)(3.3,2.3)(3.4,2.4)(3.5,2.3)(3.6,2.45)(3.7,2.35)(.3,2.6)(.05,2.0)(.25,2.0)(.6,2.05)(.8,2.2)(1.0,2.1)(1.3,2.15)(1.5,2.1)(1.7,2.1)(1.9,2.15)(2.15,2.25)(2.45,2.1)(2.75,2.1)(3.05,2.2)(3.35,2.15)(3.65,2.15)(3.95,2.0)(4.15,2.0)(4.4,1.95)(4.65,2.05)(4.9,1.95)(5.15,1.9)(5.4,1.95)(5.65,2.0)(5.9,1.9)(6.15,1.95)(6.4,1.85)(6.65,1.9)(6.9,1.95)(7.15,1.85)(7.4,1.95)(7.65,1.85)(7.9,1.8)(.4,1.8)(1.3,1.82)(2.4,1.92)(3.2,1.95)(3.8,2.0)(4.5,2.0)(5.1,1.98)(5.5,1.95)(6.2,1.98)(6.8,1.9)(7.5,1.88)}
\cells{white}{(.1,5.0)(.1,4.75)(.15,4.4)(.05,4.1)(.1,4.1)(.05,3.8)(.1,3.8)(.15,3.65)(.55,5.9)(.55,5.5)(.6,5.1)(.55,4.8)(.6,4.5)(.55,3.85)(.6,3.85)(.65,3.95)(.7,4.0)(.75,3.75)(.65,3.4)(.7,3.2)(.6,3.15)(1.1,2.95)(1.2,3.05)(1.0,.05)(.15,.05)(.2,.05)(.25,.1)(.3,.05)(.35,.05)(.4,.05)(1.5,.05)(1.95,.05)(2.0,.05)(2.05,.05)(3.0,.05)(3.95,.05)(4.5,.05)}
\cells{cD}{(.4,4.02)(.9,4.1)(1.25,3.79)(1.5,4.96)(1.45,4.47)(1.75,4.28)(1.8,3.79)(1.85,3.72)(1.85,3.35)(1.9,5.7)(1.95,5.97)(2.0,6.32)(2.05,4.53)(2.1,4.9)(2.15,5.39)(2.2,5.58)(2.25,5.49)(2.3,4.9)(2.35,4.75)(2.35,4.16)(2.4,3.94)(2.45,3.5)(2.5,3.42)(2.4,5.58)(2.45,6.5)(2.5,6.85)(2.65,7.37)(2.7,6.63)(2.75,6.01)(2.8,5.08)(2.85,4.9)(2.85,4.68)(2.9,5.58)(2.9,4.03)(2.8,3.79)(2.95,3.66)(3.0,3.42)(2.95,6.5)(3.0,6.44)(3.1,7.93)(3.15,7.86)(3.2,7.12)(3.25,6.07)(3.05,5.7)(3.1,5.64)(3.3,5.45)(3.15,4.28)(3.2,3.04)(3.3,2.89)(3.35,5.08)(3.4,5.17)(3.45,6.94)(3.5,7.06)(3.55,6.81)(3.6,7.34)(3.65,6.97)(3.7,6.75)(3.55,4.1)(3.6,3.85)(3.4,3.87)(3.45,3.57)(3.5,3.35)(3.65,3.1)
(3.95,7.65)(4.3,7.52)(4.75,7.55)(4.8,7.31)(5.3,7.12)(5.4,7.25)(5.45,7.0)(5.5,6.94)(5.15,6.88)(4.65,6.91)(4.85,6.94)(4.35,6.81)(4.05,6.75)(4.95,6.65)(5.65,6.69)(5.35,6.57)(4.6,6.57)(3.9,6.53)(4.1,6.35)(4.4,6.44)(4.55,6.44)(4.9,6.38)(5.0,6.38)(4.45,6.26)(3.75,6.2)(6.0,7.94)(5.95,7.43)(6.15,7.37)(6.25,7.55)(6.3,7.31)(6.55,7.49)(6.85,7.37)(7.75,7.49)(6.35,7.0)(7.45,7.0)(7.8,6.81)(6.4,6.57)(6.9,6.44)(6.45,6.2)(6.5,6.26)(7.2,6.28)(7.65,6.28)(5.9,5.97)(7.3,5.89)(6.95,5.74)(5.25,5.83)(4.05,5.83)(4.15,5.7)(4.1,5.58)(4.5,5.64)(4.55,5.45)(4.6,5.21)(3.8,5.27)(7.7,5.39)(7.0,5.23)(7.25,5.15)(5.2,5.02)(5.7,4.96)(6.55,4.99)(3.85,4.65)(7.7,4.84)(6.6,4.65)(7.9,4.71)(5.85,4.25)(4.15,4.16)(7.3,4.16)(3.9,3.79)(5.25,3.85)(5.75,3.81)(4.65,3.79)(4.55,3.54)(4.6,3.42)(3.95,3.5)(3.85,3.32)(4.0,3.23)(4.05,3.11)(4.1,3.05)(6.65,3.6)(6.55,3.42)(6.05,3.35)(6.1,3.42)(6.15,3.11)(7.05,3.48)(7.1,3.48)(7.55,3.85)(7.6,3.54)(7.85,3.57)(7.75,3.29)(6.6,2.86)(6.7,2.92)(6.75,2.98)(7.15,2.92)(7.25,2.86)(7.35,2.95)(7.4,2.98)(7.45,2.92)(7.65,2.95)(7.3,2.74)(7.4,2.74)(7.5,2.74)(7.7,2.67)(4.75,2.89)(4.7,2.8)(4.85,2.74)(4.8,2.61)(4.25,2.67)(4.35,2.67)(4.2,2.55)(5.35,2.67)(5.8,2.82)(5.85,2.74)(5.95,2.86)(6.0,2.8)(6.2,2.8)(6.25,2.67)(6.3,2.55)(6.35,2.49)(6.1,2.49)(5.9,2.58)(5.55,2.61)(5.6,2.61)(7.8,2.49)(6.45,2.43)(7.95,2.37)}
\spine
\end{axis}
% densities, aligned
\begin{axis}[kdeA,at={(672.25pt,508pt)},anchor=south west,ymin=0,ymax=3.4,ytick={0,2},yticklabels={0,2},minor ytick={1,3},xticklabels={},title={aligned}]
\kde{\kAs}
\node at (rel axis cs:.898,.61) {\fontsize{13}{15}\selectfont start};
\spine
\end{axis}
\begin{axis}[kdeA,at={(672.25pt,446.4pt)},anchor=south west,ymin=0,ymax=5.6,ytick={0,3},yticklabels={0,3},minor ytick={1,2,4,5},xticklabels={0.0,0.5,1.0,1.5,2.0},xlabel={\pr}]
\kde{\kAe}
\node at (rel axis cs:.898,.61) {\fontsize{13}{15}\selectfont end};
\spine
\end{axis}
% densities, tilted
\begin{axis}[kdeB,at={(672.25pt,326pt)},anchor=south west,ymin=0,ymax=1.277,ytick={0,.5,1},yticklabels={0.0,0.5,1.0},minor ytick={.25,.75,1.25},xticklabels={},title={tilted}]
\kde{\kBs}
\node at (rel axis cs:.898,.61) {\fontsize{13}{15}\selectfont start};
\spine
\end{axis}
\begin{axis}[kdeB,at={(672.25pt,264.5pt)},anchor=south west,ymin=0,ymax=1.69,ytick={0,.5,1,1.5},yticklabels={0.0,0.5,1.0,1.5},minor ytick={.25,.75,1.25},xticklabels={0,1,2,3},xlabel={\pr}]
\kde{\kBe}
\node at (rel axis cs:.898,.61) {\fontsize{13}{15}\selectfont end};
\spine
\end{axis}
% densities, loose
\begin{axis}[kdeB,at={(672.25pt,144pt)},anchor=south west,ymin=0,ymax=1.273,ytick={0,.5,1},yticklabels={0.0,0.5,1.0},minor ytick={.25,.75,1.25},xticklabels={},title={loose}]
\kde{\kCs}
\node at (rel axis cs:.898,.61) {\fontsize{13}{15}\selectfont start};
\spine
\end{axis}
\begin{axis}[kdeB,at={(672.25pt,82.6pt)},anchor=south west,ymin=0,ymax=1.466,ytick={0,.5,1},yticklabels={0.0,0.5,1.0},minor ytick={.25,.75,1.25},xticklabels={0,1,2,3},xlabel={\pr}]
\kde{\kCe}
\node at (rel axis cs:.898,.61) {\fontsize{13}{15}\selectfont end};
\spine
\end{axis}
\end{tikzpicture}
\end{document}
